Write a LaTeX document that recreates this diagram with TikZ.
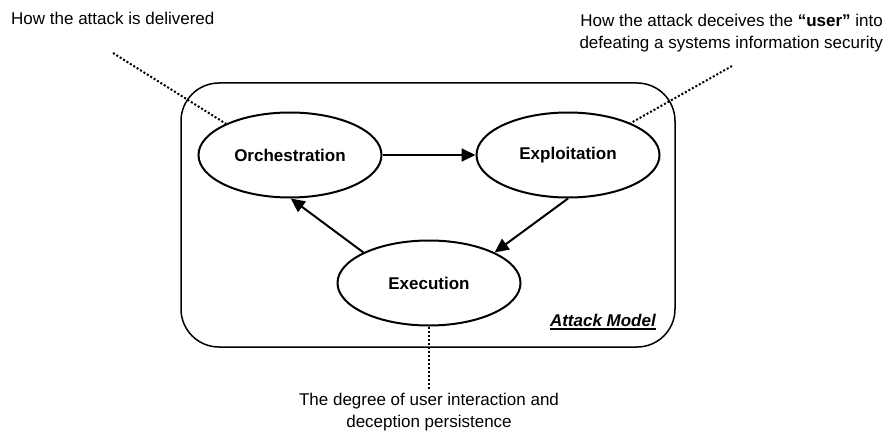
\documentclass[tikz,border=0pt]{standalone}
\usepackage{fontspec}
\setmainfont{Liberation Sans}
\usetikzlibrary{shapes.geometric,arrows.meta}
\begin{document}
\begin{tikzpicture}[x=1pt,y=-1pt,
  stage/.style={draw, ellipse, line width=2pt, minimum width=183pt, minimum height=85pt, inner sep=0pt, font=\fontsize{17}{20}\selectfont\bfseries},
  flow/.style={line width=2pt, -{Triangle[length=14pt,width=13pt]}},
  dots/.style={line width=2pt, dash pattern=on 2pt off 2pt},
  note/.style={inner sep=0pt, font=\fontsize{17}{22}\selectfont}
]
\useasboundingbox (0,0) rectangle (890,433);
\node[draw, line width=1.5pt, rounded corners=38pt, minimum width=494pt, minimum height=264pt, inner sep=0pt] (frame) at (428,215) {};
\node[stage] (orch) at (290,155) {Orchestration};
\node[stage] (expl) at (568,155) {Exploitation};
\node[stage] (exec) at (429,283) {Execution};
\draw[flow] (orch) -- (expl);
\draw[flow] (expl.-90) -- (exec.25);
\draw[flow] (exec.155) -- (orch.-89);
\node[note, anchor=base east, font=\fontsize{17}{22}\selectfont\bfseries\itshape] (am) at (656,326) {Attack Model};
\draw[line width=1.3pt] ([yshift=-3pt]am.base west) -- ([yshift=-3pt]am.base east);
\node[note, anchor=base west] (t1) at (11,25) {How the attack is delivered};
\node[note, anchor=north east, align=right] (t2) at (883,14) {How the attack deceives the \textbf{“user”} into\\defeating a systems information security};
\node[note, anchor=north, align=center] (t3) at (429,393) {The degree of user interaction and\\deception persistence};
\coordinate (c1) at (113,53);
\coordinate (c2) at (732,66);
\coordinate (c3) at (429,390);
\draw[dots] (c1) -- (orch.154);
\draw[dots] (c2) -- (expl.27);
\draw[dots] (exec.south) -- (c3);
\end{tikzpicture}
\end{document}
